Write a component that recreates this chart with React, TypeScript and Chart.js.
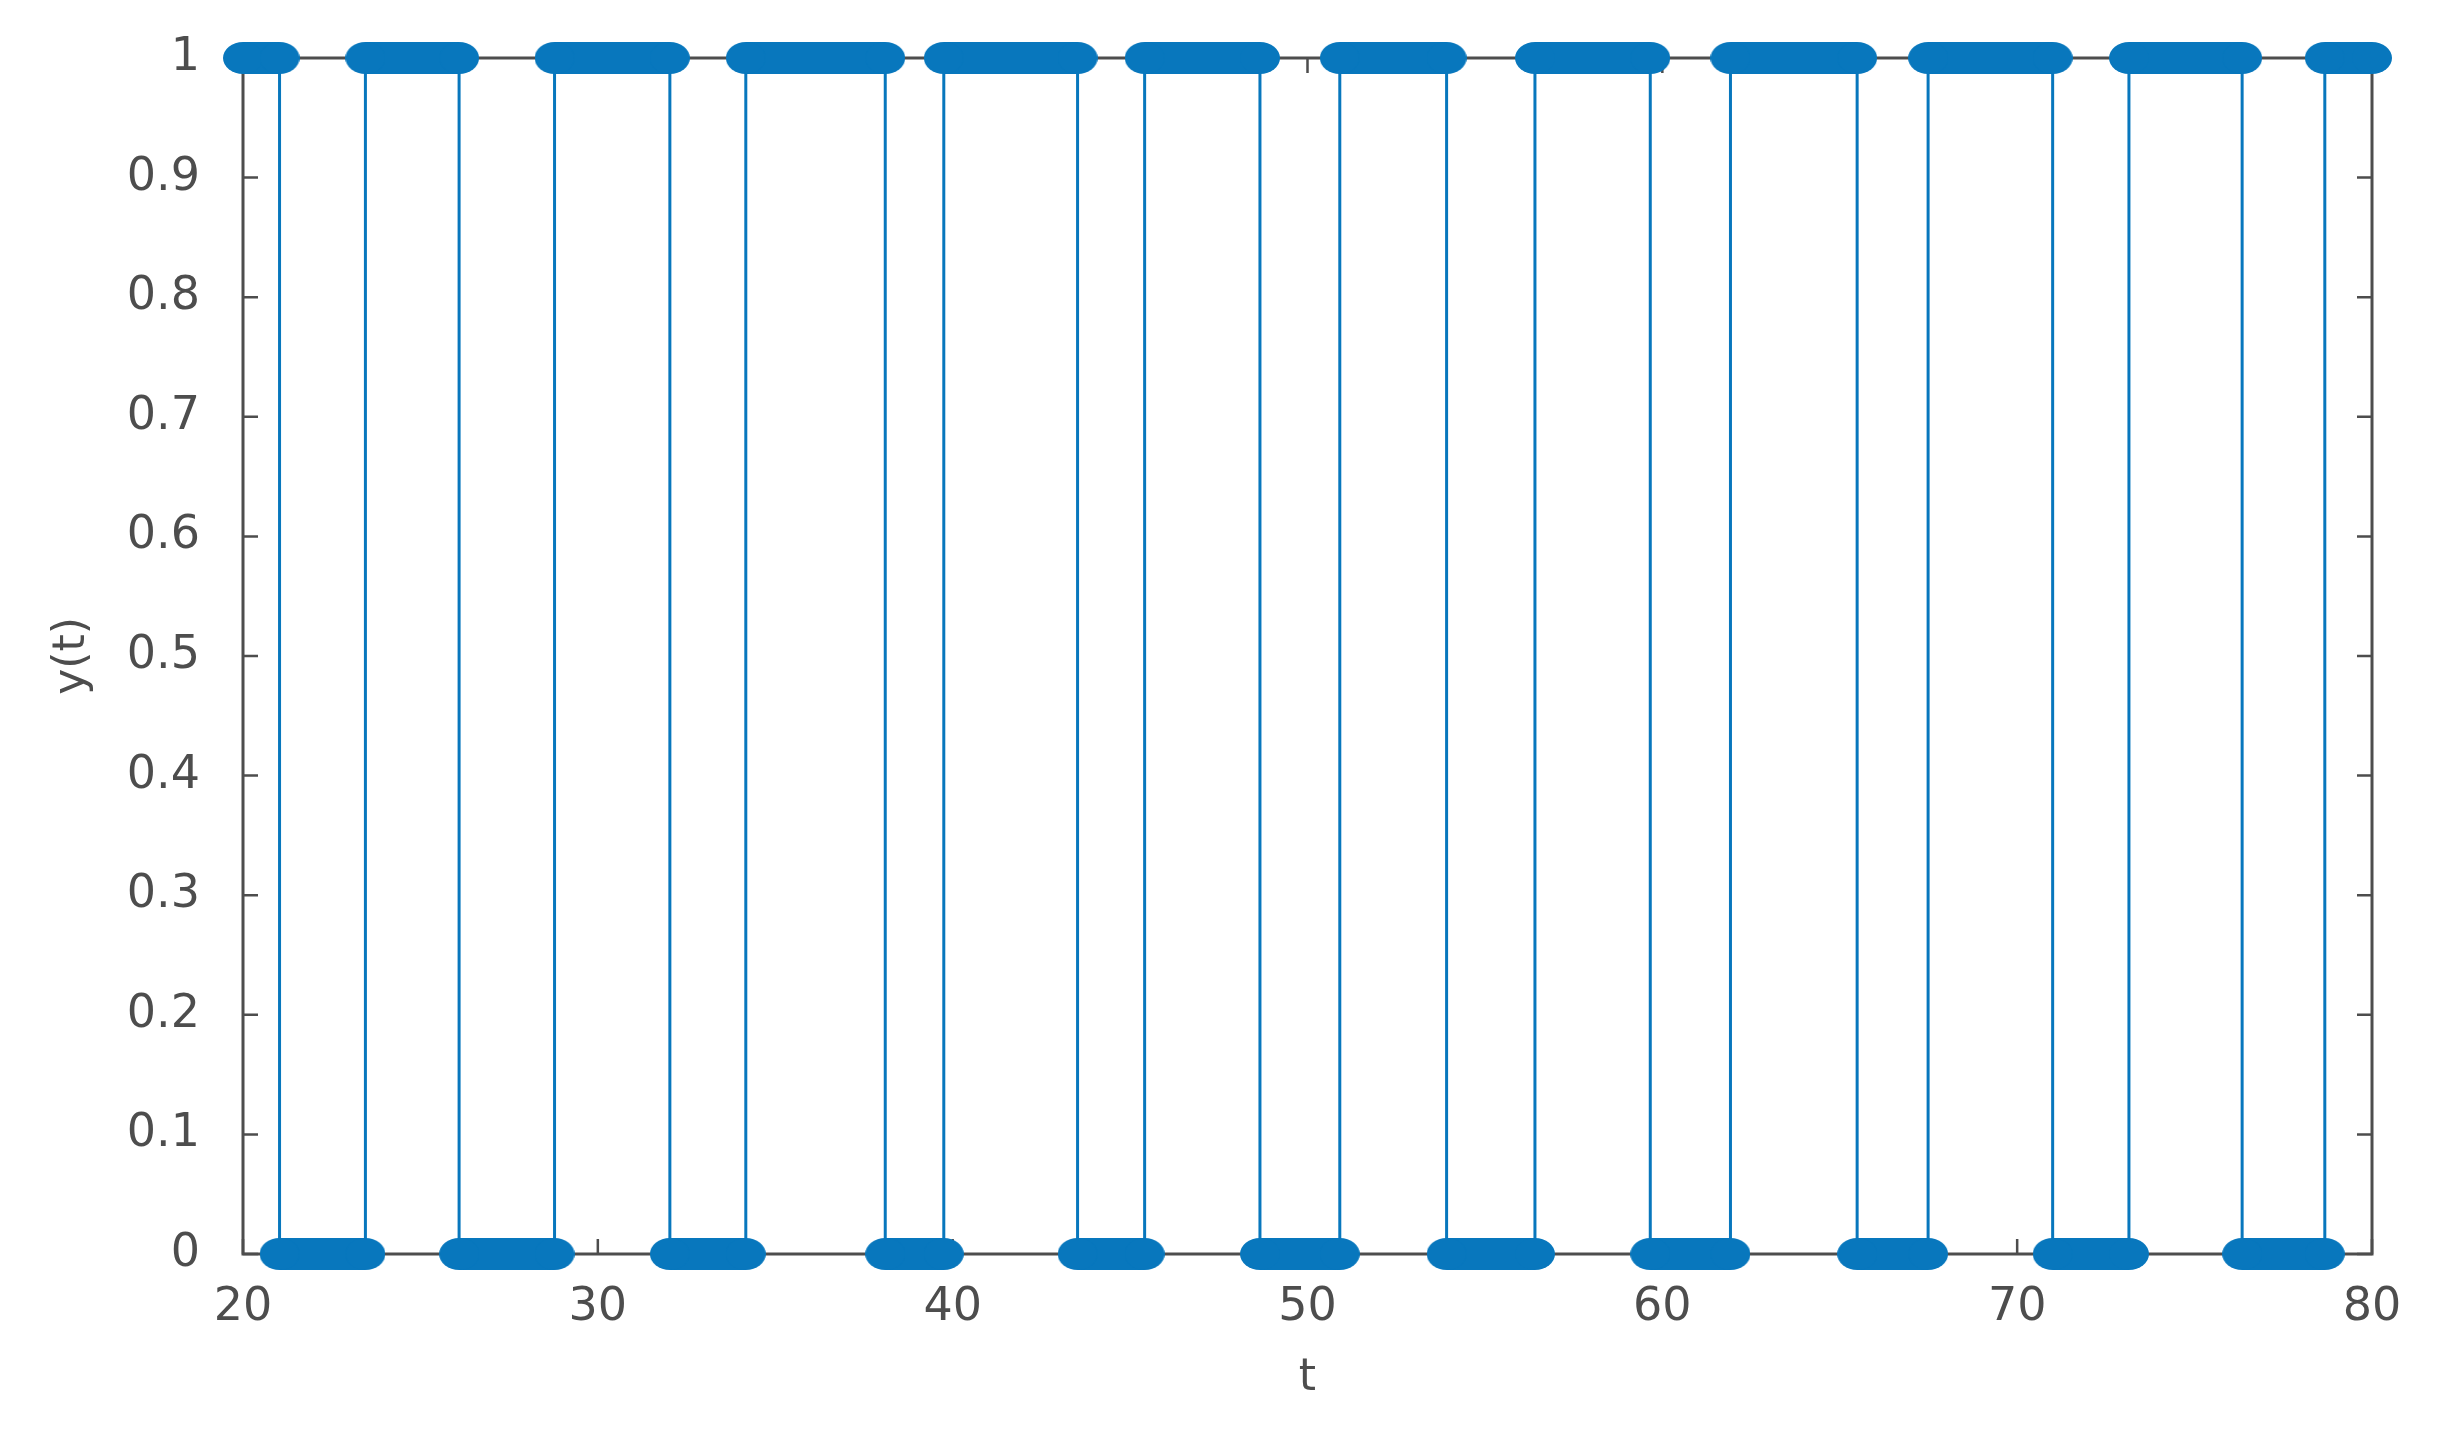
import React, { useEffect, useRef } from 'react';
import { Chart, registerables } from 'chart.js';

Chart.register(...registerables);

// ---- data ----
const T_START = 20;
const T_END = 80;
const START_LEVEL = 1;
const transitionTimes = [
  21.03, 23.45, 26.09, 28.78, 32.03, 34.17, 38.1, 39.75, 43.52, 45.41, 48.66,
  50.91, 53.92, 56.41, 59.66, 61.92, 65.49, 67.49, 71.0, 73.15, 76.34, 78.67,
];
const xTicks = [20, 30, 40, 50, 60, 70, 80];
const xTickLabels = ['20', '30', '40', '50', '60', '70', '80'];
const yTicks = [0, 0.1, 0.2, 0.3, 0.4, 0.5, 0.6, 0.7, 0.8, 0.9, 1];
const yTickLabels = ['0', '0.1', '0.2', '0.3', '0.4', '0.5', '0.6', '0.7', '0.8', '0.9', '1'];
const xTitle = 't';
const yTitle = 'y(t)';

const BLUE = '#0877BD';
const AXIS = '#4d4d4d';
const W = 2437;
const H = 1434;

function buildSeries() {
  const bounds = [T_START, ...transitionTimes, T_END];
  const wave: { x: number; y: number }[] = [];
  const high: { x: number; y: number | null }[] = [];
  const low: { x: number; y: number | null }[] = [];
  let level = START_LEVEL;
  for (let i = 0; i < bounds.length - 1; i++) {
    wave.push({ x: bounds[i], y: level }, { x: bounds[i + 1], y: level });
    const target = level === 1 ? high : low;
    target.push({ x: bounds[i], y: level }, { x: bounds[i + 1], y: level }, { x: bounds[i + 1], y: null });
    level = 1 - level;
  }
  return { wave, high, low };
}

const boxPlugin = {
  id: 'matlabBox',
  beforeDatasetsDraw(chart: any) {
    const { ctx, chartArea: a, scales } = chart;
    const x = scales.x;
    const y = scales.y;
    ctx.save();
    ctx.strokeStyle = AXIS;
    ctx.lineWidth = 3;
    ctx.strokeRect(a.left, a.top, a.right - a.left, a.bottom - a.top);
    ctx.lineWidth = 2.5;
    const L = 15;
    ctx.beginPath();
    xTicks.forEach((v) => {
      const px = x.getPixelForValue(v);
      ctx.moveTo(px, a.bottom);
      ctx.lineTo(px, a.bottom - L);
      ctx.moveTo(px, a.top);
      ctx.lineTo(px, a.top + L);
    });
    yTicks.forEach((v) => {
      const py = y.getPixelForValue(v);
      ctx.moveTo(a.left, py);
      ctx.lineTo(a.left + L, py);
      ctx.moveTo(a.right, py);
      ctx.lineTo(a.right - L, py);
    });
    ctx.stroke();
    ctx.restore();
  },
};

export default function App() {
  const ref = useRef<HTMLCanvasElement | null>(null);

  useEffect(() => {
    document.body.style.margin = '0';
    const canvas = ref.current;
    if (!canvas) return;

    const marker = document.createElement('canvas');
    marker.width = 40;
    marker.height = 32;
    const mctx = marker.getContext('2d')!;
    mctx.fillStyle = BLUE;
    mctx.beginPath();
    mctx.ellipse(20, 16, 20, 16, 0, 0, Math.PI * 2);
    mctx.fill();

    const { wave, high, low } = buildSeries();
    const font = { family: '"DejaVu Sans", sans-serif', size: 46 };
    const titleFont = { family: '"DejaVu Sans", sans-serif', size: 44 };

    const bandDs = (data: any[]) => ({
      data,
      borderColor: BLUE,
      backgroundColor: BLUE,
      borderWidth: 32,
      borderCapStyle: 'butt' as const,
      pointStyle: marker,
      pointRadius: 16,
      pointBorderWidth: 0,
      spanGaps: false,
      clip: false as any,
      order: 1,
    });

    const chart = new Chart(canvas, {
      type: 'line',
      data: {
        datasets: [
          bandDs(high),
          bandDs(low),
          {
            data: wave,
            borderColor: BLUE,
            borderWidth: 3,
            pointRadius: 0,
            clip: false as any,
            order: 2,
          },
        ],
      },
      plugins: [boxPlugin],
      options: {
        animation: false,
        responsive: false,
        events: [],
        layout: { autoPadding: false, padding: { top: 58, right: 65, bottom: 0, left: 0 } },
        plugins: { legend: { display: false }, tooltip: { enabled: false } },
        scales: {
          x: {
            type: 'linear',
            min: T_START,
            max: T_END,
            afterFit: (s: any) => {
              s.height = H - 1254;
              s.paddingLeft = 0;
              s.paddingRight = 0;
            },
            afterBuildTicks: (s: any) => {
              s.ticks = xTicks.map((v) => ({ value: v }));
            },
            grid: { display: false, drawTicks: false },
            border: { display: false },
            ticks: {
              color: AXIS,
              font,
              padding: 26,
              maxRotation: 0,
              autoSkip: false,
              callback: (v: any) => {
                const i = xTicks.indexOf(Number(v));
                return i >= 0 ? xTickLabels[i] : '';
              },
            },
            title: {
              display: true,
              text: xTitle,
              color: AXIS,
              font: titleFont,
              padding: { top: 0, bottom: 29 },
            },
          },
          y: {
            type: 'linear',
            min: 0,
            max: 1,
            afterFit: (s: any) => {
              s.width = 243;
              s.paddingTop = 0;
              s.paddingBottom = 0;
            },
            afterBuildTicks: (s: any) => {
              s.ticks = yTicks.map((v) => ({ value: v }));
            },
            grid: { display: false, drawTicks: false },
            border: { display: false },
            ticks: {
              color: AXIS,
              font,
              padding: 43,
              autoSkip: false,
              callback: (v: any) => {
                const i = yTicks.findIndex((t) => Math.abs(t - Number(v)) < 1e-9);
                return i >= 0 ? yTickLabels[i] : '';
              },
            },
            title: {
              display: true,
              text: yTitle,
              color: AXIS,
              font: titleFont,
              padding: { top: 46, bottom: 0 },
            },
          },
        },
      },
    });

    return () => chart.destroy();
  }, []);

  return (
    <div style={{ width: W, height: H }}>
      <canvas ref={ref} width={W} height={H} style={{ display: 'block', width: W, height: H }} />
    </div>
  );
}
